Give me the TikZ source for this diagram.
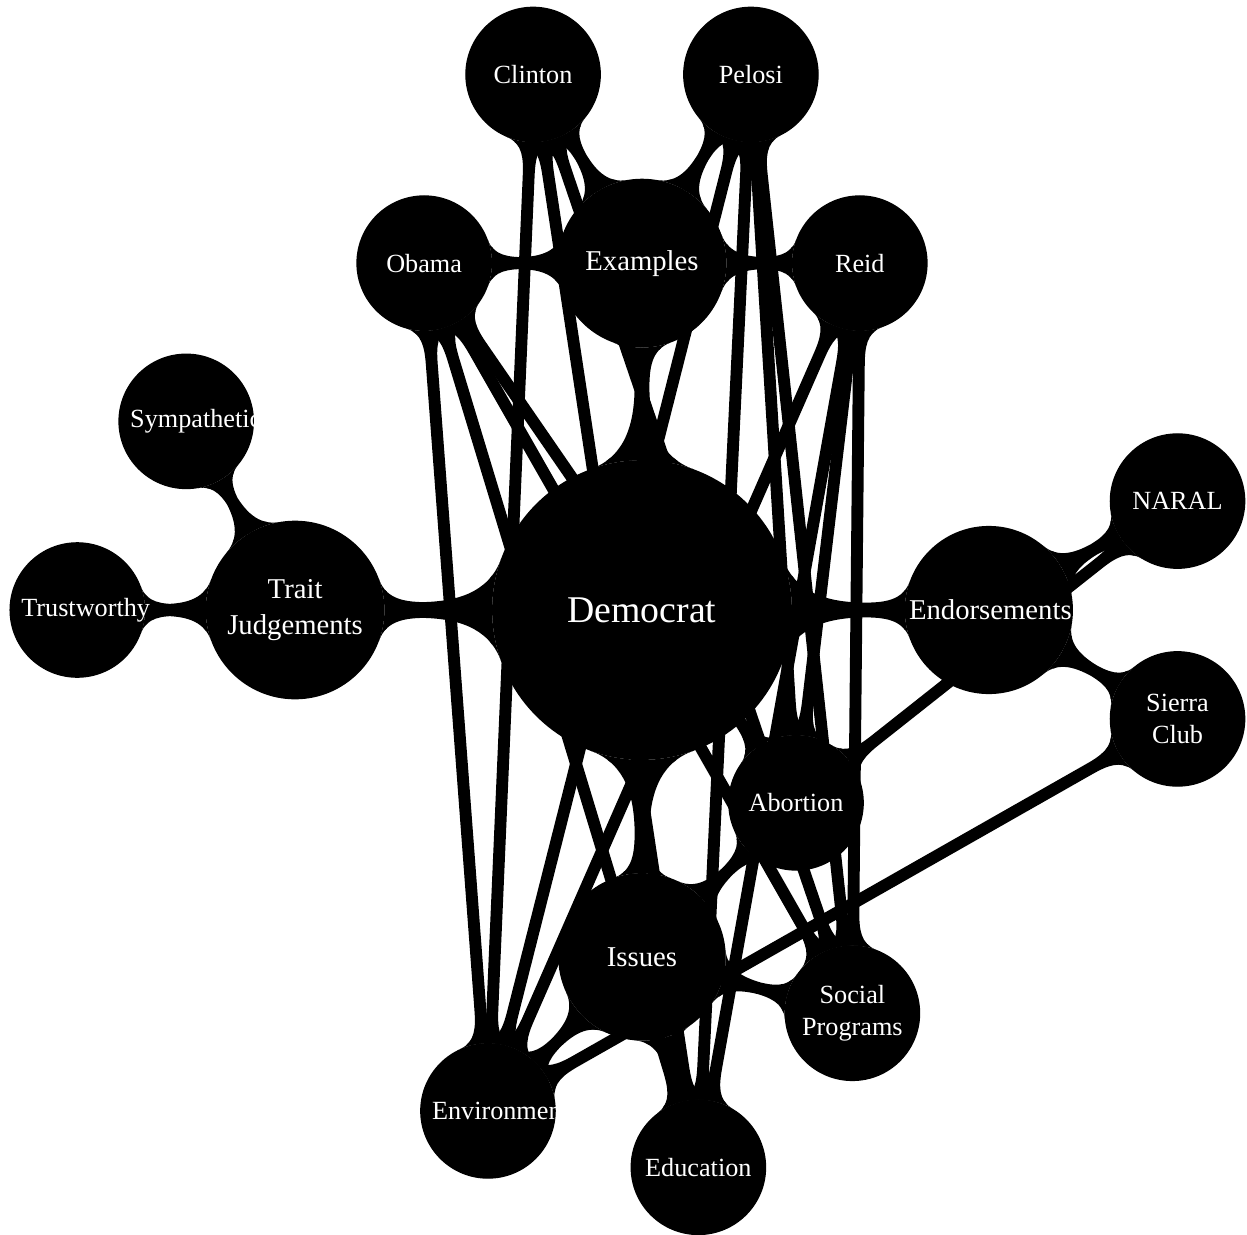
\documentclass[tikz,border=0pt]{standalone}
\usepackage{fontspec}
\setmainfont{Liberation Serif}
\usetikzlibrary{mindmap,calc}
\pgfdeclarelayer{background}
\pgfsetlayers{background,main}

\begin{document}
\begin{tikzpicture}[
  rootc/.style={circle,fill=black,draw=black,line width=0.5pt,text=white,align=center,inner sep=1pt,
    minimum size=4cm,text width=3.5cm,font=\fontsize{14.4}{17}\selectfont},
  topicc/.style={circle,fill=black,draw=black,line width=0.5pt,text=white,align=center,inner sep=1pt,
    text width=2.14cm,font=\fontsize{10.95}{14}\selectfont},
  leafc/.style={circle,fill=black,draw=black,line width=0.5pt,text=white,align=center,inner sep=1pt,
    minimum size=1.8cm,text width=1.5cm,font=\fontsize{10}{12}\selectfont},
  joint/.style={circle connection bar switch color=from (black) to (black)},
  trunk/.style={line width=2mm},
  twig/.style={line width=1.5mm}]
\useasboundingbox (-8.606,-8.378) rectangle (8.110,8.177);
% centre and first ring
\node[rootc] (dem) at (0,0) {Democrat};
\node[topicc] (ex) at (90:4.65) {Examples};
\node[topicc] (trait) at (180:4.65) {Trait Judgements};
\node[topicc] (endorse) at (0:4.65) {Endorsements};
\node[topicc] (issues) at (-90:4.65) {Issues};
% outer ring
\node[leafc] (obama) at ($(ex)+(180:2.92)$) {Obama};
\node[leafc] (clinton) at ($(ex)+(120:2.92)$) {Clinton};
\node[leafc] (pelosi) at ($(ex)+(60:2.92)$) {Pelosi};
\node[leafc] (reid) at ($(ex)+(0:2.92)$) {Reid};
\node[leafc] (symp) at ($(trait)+(120:2.92)$) {Sympathetic};
\node[leafc] (trust) at ($(trait)+(180:2.92)$) {Trustworthy};
\node[leafc] (naral) at ($(endorse)+(30:2.92)$) {NARAL};
\node[leafc] (sierra) at ($(endorse)+(-30:2.92)$) {Sierra Club};
\node[leafc] (abortion) at ($(issues)+(45:2.92)$) {Abortion};
\node[leafc] (social) at ($(issues)+(-15:2.92)$) {Social Programs};
\node[leafc] (edu) at ($(issues)+(-75:2.92)$) {Education};
\node[leafc] (env) at ($(issues)+(-135:2.92)$) {Environment};
\begin{pgfonlayer}{background}
\path[trunk] (dem) to[joint] (ex); \path[trunk] (dem) to[joint] (trait);
\path[trunk] (dem) to[joint] (endorse); \path[trunk] (dem) to[joint] (issues);
\path[twig] (ex) to[joint] (obama); \path[twig] (ex) to[joint] (clinton);
\path[twig] (ex) to[joint] (pelosi); \path[twig] (ex) to[joint] (reid);
\path[twig] (trait) to[joint] (symp); \path[twig] (trait) to[joint] (trust);
\path[twig] (endorse) to[joint] (naral); \path[twig] (endorse) to[joint] (sierra);
\path[twig] (issues) to[joint] (abortion); \path[twig] (issues) to[joint] (social);
\path[twig] (issues) to[joint] (edu); \path[twig] (issues) to[joint] (env);
% cross links
\path[twig] (clinton) to[joint] (env); \path[twig] (clinton) to[joint] (edu);
\path[twig] (clinton) to[joint] (social);
\path[twig] (obama) to[joint] (env); \path[twig] (obama) to[joint] (edu);
\path[twig] (obama) to[joint] (social); \path[twig] (obama) to[joint] (abortion);
\path[twig] (pelosi) to[joint] (env); \path[twig] (pelosi) to[joint] (edu);
\path[twig] (pelosi) to[joint] (abortion); \path[twig] (pelosi) to[joint] (social);
\path[twig] (reid) to[joint] (env); \path[twig] (reid) to[joint] (edu);
\path[twig] (reid) to[joint] (abortion); \path[twig] (reid) to[joint] (social);
\path[twig] (naral) to[joint] (abortion); \path[twig] (sierra) to[joint] (env);
\end{pgfonlayer}
\end{tikzpicture}
\end{document}
